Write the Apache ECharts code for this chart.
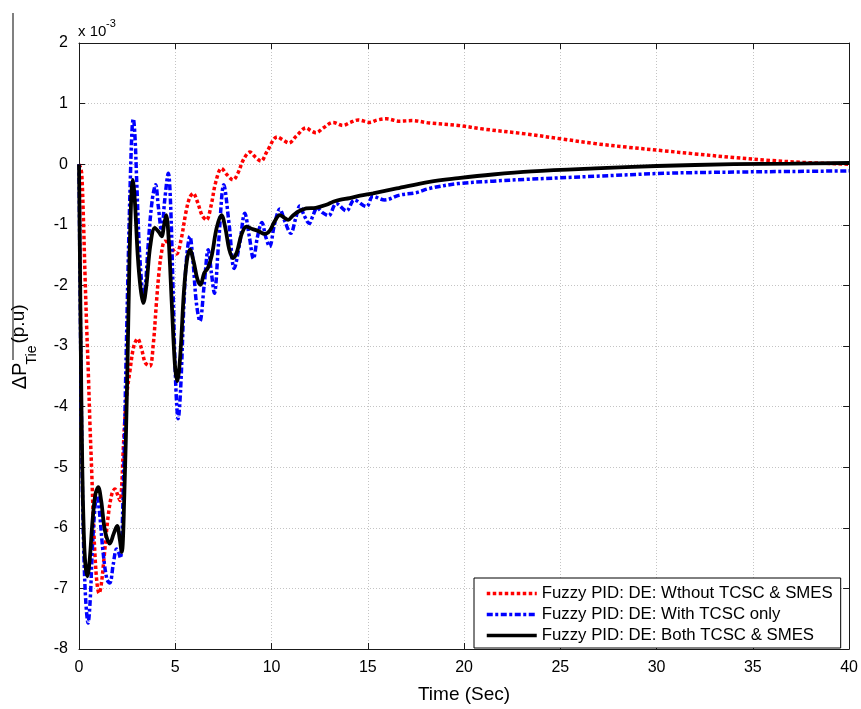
<!DOCTYPE html>
<html>
<head>
<meta charset="utf-8">
<script src="https://cdn.jsdelivr.net/npm/echarts@6/dist/echarts.min.js"></script>
<style>
html,body{margin:0;padding:0;background:#fff;}
#chart{width:861px;height:709px;}
</style>
</head>
<body>
<div id="chart"></div>
<script>
// ---- data (values in units of 1e-3 p.u.) ----
var seriesNames = [
  'Fuzzy PID: DE: Wthout TCSC & SMES',
  'Fuzzy PID: DE: With TCSC only',
  'Fuzzy PID: DE: Both TCSC & SMES'
];
var xTicks = [0, 5, 10, 15, 20, 25, 30, 35, 40];
var yTicks = [-8, -7, -6, -5, -4, -3, -2, -1, 0, 1, 2];

var redT = [0,0.07,0.14,0.22,0.31,0.4,0.48,0.57,0.66,0.75,0.83,0.93,1.04,1.15,1.3,1.5,1.7,1.87,2.0,2.13,2.22,2.3,2.45,2.65,2.85,3.05,3.25,3.45,3.68,3.85,4.03,4.15,4.29,4.46,4.7,4.9,5.07,5.3,5.55,5.75,5.93,6.15,6.4,6.62,6.85,7.1,7.4,7.7,8.0,8.25,8.55,8.87,9.15,9.45,9.75,10.3,10.6,10.9,11.3,11.8,12.05,12.3,12.7,13.2,13.7,14.1,14.5,15.1,15.5,15.96,16.65,17.3,18.2,19.7,21,23.2,25,26.8,28.5,30.4,32,34,36,37.6,40];
var redV = [0,-0.05,-0.15,-0.8,-1.8,-2.7,-3.4,-4.3,-5.07,-5.9,-6.45,-6.9,-7.08,-6.95,-6.5,-5.85,-5.45,-5.36,-5.45,-5.55,-5.3,-4.7,-3.9,-3.4,-3.0,-2.88,-3.05,-3.28,-3.33,-3.0,-2.25,-1.8,-1.45,-1.27,-1.3,-1.42,-1.48,-1.25,-0.8,-0.55,-0.48,-0.62,-0.85,-0.92,-0.7,-0.3,-0.07,-0.18,-0.26,-0.15,0.08,0.2,0.12,0.05,0.2,0.45,0.4,0.35,0.47,0.6,0.55,0.52,0.6,0.69,0.64,0.69,0.73,0.69,0.73,0.75,0.71,0.72,0.68,0.64,0.58,0.50,0.42,0.34,0.28,0.22,0.17,0.11,0.06,0.03,0.0];

var blueT = [0,0.05,0.1,0.17,0.25,0.35,0.47,0.58,0.7,0.82,0.92,1.05,1.25,1.45,1.6,1.78,1.95,2.05,2.15,2.28,2.42,2.55,2.67,2.76,2.82,2.9,3.0,3.12,3.25,3.34,3.45,3.6,3.8,3.98,4.12,4.29,4.45,4.64,4.75,4.88,5.02,5.15,5.28,5.45,5.6,5.76,5.92,6.1,6.28,6.5,6.71,6.88,7.03,7.25,7.52,7.8,8.06,8.35,8.61,8.85,9.06,9.27,9.5,9.7,9.9,10.15,10.43,10.7,11.0,11.25,11.47,11.7,11.96,12.15,12.37,12.65,12.96,13.37,13.89,14.3,14.93,15.27,15.88,16.65,17.5,18.2,19.7,21.5,23.2,26.8,30.4,34,37,40];
var blueV = [0,-1.8,-3.4,-5.2,-6.4,-7.2,-7.57,-7.2,-6.3,-5.7,-5.47,-5.7,-6.4,-6.85,-6.91,-6.6,-6.35,-6.4,-6.5,-5.6,-3.6,-1.7,-0.2,0.6,0.75,0.5,-0.3,-1.3,-1.95,-2.18,-2.0,-1.3,-0.6,-0.34,-0.7,-1.11,-0.6,-0.15,-0.6,-2.0,-3.6,-4.2,-3.7,-2.3,-1.5,-1.19,-1.6,-2.3,-2.59,-2.0,-1.41,-1.8,-2.13,-1.3,-0.34,-1.0,-1.72,-1.3,-0.81,-1.2,-1.56,-1.2,-0.96,-1.2,-1.36,-1.0,-0.74,-0.95,-1.14,-0.9,-0.69,-0.85,-0.98,-0.85,-0.72,-0.8,-0.85,-0.65,-0.77,-0.59,-0.70,-0.53,-0.59,-0.51,-0.47,-0.40,-0.32,-0.28,-0.25,-0.20,-0.15,-0.13,-0.12,-0.11];

var blackT = [0,0.05,0.1,0.17,0.25,0.33,0.43,0.55,0.7,0.85,1.0,1.15,1.35,1.6,1.8,1.98,2.1,2.22,2.35,2.5,2.62,2.72,2.79,2.9,3.05,3.2,3.34,3.5,3.7,3.94,4.15,4.29,4.42,4.53,4.65,4.82,4.98,5.1,5.25,5.45,5.6,5.76,5.95,6.15,6.31,6.5,6.7,6.9,7.15,7.4,7.6,7.8,8.0,8.2,8.45,8.7,9.0,9.3,9.65,9.9,10.15,10.43,10.65,10.86,11.1,11.4,11.8,12.3,12.85,13.2,13.54,14.06,14.6,15.27,16.5,18.2,19.7,21.5,23.5,26.8,30,34,37,40];
var blackV = [0,-1.6,-3.2,-5.0,-6.1,-6.6,-6.8,-6.55,-5.9,-5.45,-5.33,-5.55,-6.05,-6.26,-6.1,-5.97,-6.15,-6.4,-5.5,-3.6,-1.6,-0.5,-0.26,-0.6,-1.5,-2.05,-2.29,-2.0,-1.35,-1.05,-1.12,-1.19,-1.0,-0.84,-1.2,-2.3,-3.3,-3.58,-3.2,-2.1,-1.6,-1.41,-1.6,-1.9,-1.99,-1.8,-1.71,-1.5,-1.05,-0.84,-1.05,-1.4,-1.55,-1.45,-1.15,-1.03,-1.07,-1.1,-1.15,-1.1,-0.95,-0.84,-0.88,-0.92,-0.85,-0.78,-0.73,-0.72,-0.67,-0.62,-0.59,-0.56,-0.52,-0.48,-0.40,-0.29,-0.23,-0.17,-0.12,-0.07,-0.03,0.0,0.01,0.02];

function pairs(t, v) { return t.map(function (x, i) { return [x, v[i]]; }); }

var FONT = 'Liberation Sans, Arial, Helvetica, sans-serif';
var chart = echarts.init(document.getElementById('chart'), null, {renderer: 'canvas'});

var axisLineStyle = {color: '#1a1a1a', width: 1};
var option = {
  backgroundColor: '#ffffff',
  animation: false,
  grid: {left: 79, right: 11, top: 43, bottom: 57, containLabel: false},
  xAxis: [{
    type: 'value', min: xTicks[0], max: xTicks[xTicks.length - 1], interval: 5,
    position: 'bottom',
    name: 'Time (Sec)', nameLocation: 'middle', nameGap: 36,
    nameTextStyle: {fontFamily: FONT, fontSize: 19, color: '#000'},
    axisLine: {show: true, onZero: false, lineStyle: axisLineStyle},
    axisTick: {show: true, inside: true, length: 6, lineStyle: axisLineStyle},
    axisLabel: {fontFamily: FONT, fontSize: 16, color: '#000', margin: 11},
    splitLine: {show: true, lineStyle: {color: '#c4c4c4', type: [1, 2], width: 1}}
  }, {
    type: 'value', min: xTicks[0], max: xTicks[xTicks.length - 1], interval: 5,
    position: 'top',
    axisLine: {show: true, onZero: false, lineStyle: axisLineStyle},
    axisTick: {show: true, inside: true, length: 6, lineStyle: axisLineStyle},
    axisLabel: {show: false}, splitLine: {show: false}
  }],
  yAxis: [{
    type: 'value', min: yTicks[0], max: yTicks[yTicks.length - 1], interval: 1,
    position: 'left',
    axisLine: {show: true, onZero: false, lineStyle: axisLineStyle},
    axisTick: {show: true, inside: true, length: 6, lineStyle: axisLineStyle},
    axisLabel: {fontFamily: FONT, fontSize: 16, color: '#000', margin: 11},
    splitLine: {show: true, lineStyle: {color: '#c4c4c4', type: [1, 2], width: 1}}
  }, {
    type: 'value', min: yTicks[0], max: yTicks[yTicks.length - 1], interval: 1,
    position: 'right',
    axisLine: {show: true, onZero: false, lineStyle: axisLineStyle},
    axisTick: {show: true, inside: true, length: 6, lineStyle: axisLineStyle},
    axisLabel: {show: false}, splitLine: {show: false}
  }],
  legend: {
    orient: 'vertical', left: 474, top: 578,
    padding: [7, 8, 4, 11], itemGap: 4, itemWidth: 50, itemHeight: 14,
    borderColor: '#000', borderWidth: 1, backgroundColor: '#fff',
    textStyle: {fontFamily: FONT, fontSize: 16.8, color: '#000'},
    data: seriesNames,
    itemStyle: {opacity: 0, borderWidth: 0},
    lineStyle: {width: 3.5, opacity: 1}
  },
  series: [{
    name: seriesNames[0], type: 'line', data: pairs(redT, redV),
    symbol: 'none', smooth: 0.35,
    lineStyle: {color: '#ff0000', width: 3.5, type: [3.5, 2.5], cap: 'butt'},
    itemStyle: {color: '#ff0000'}, z: 2
  }, {
    name: seriesNames[1], type: 'line', data: pairs(blueT, blueV),
    symbol: 'none', smooth: 0.35,
    lineStyle: {color: '#0000ff', width: 3.5, type: [6, 2.5, 3, 2.5], cap: 'butt'},
    itemStyle: {color: '#0000ff'}, z: 3
  }, {
    name: seriesNames[2], type: 'line', data: pairs(blackT, blackV),
    symbol: 'none', smooth: 0.35,
    lineStyle: {color: '#000000', width: 3.8},
    itemStyle: {color: '#000000'}, z: 4
  }],
  graphic: [
    {type: 'line', shape: {x1: 13, y1: 13, x2: 13, y2: 360}, style: {stroke: '#808080', lineWidth: 2}, silent: true},
    {type: 'text', x: 78, y: 39, style: {text: 'x 10', fontFamily: FONT, fontSize: 15, fill: '#000', textVerticalAlign: 'bottom'}},
    {type: 'text', x: 106, y: 29, style: {text: '-3', fontFamily: FONT, fontSize: 11, fill: '#000', textVerticalAlign: 'bottom'}},
    {type: 'text', x: 20, y: 376, rotation: Math.PI / 2, style: {text: 'ΔP', fontFamily: FONT, fontSize: 20, fill: '#000', textAlign: 'center', textVerticalAlign: 'middle'}},
    {type: 'text', x: 32, y: 355, rotation: Math.PI / 2, style: {text: 'Tie', fontFamily: FONT, fontSize: 14, fill: '#000', textAlign: 'center', textVerticalAlign: 'middle'}},
    {type: 'text', x: 19, y: 324, rotation: Math.PI / 2, style: {text: '(p.u)', fontFamily: FONT, fontSize: 19, fill: '#000', textAlign: 'center', textVerticalAlign: 'middle'}}
  ]
};
chart.setOption(option);
</script>
</body>
</html>
